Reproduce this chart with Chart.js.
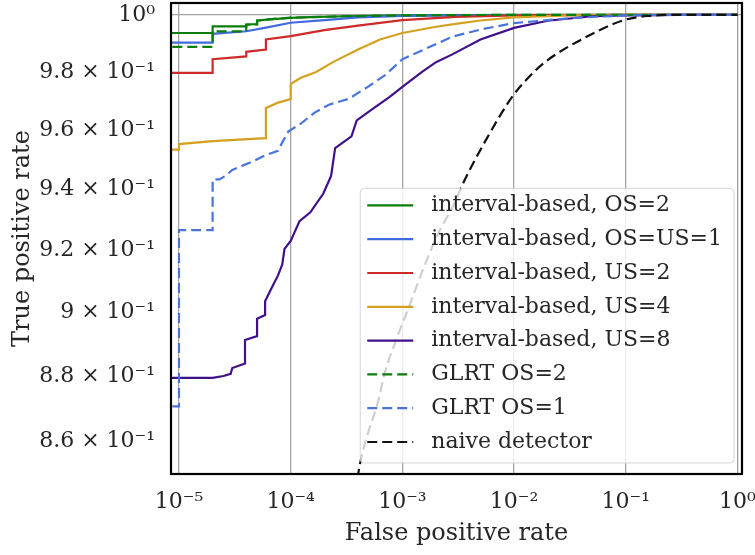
<!DOCTYPE html>
<html>
<head>
<meta charset="utf-8">
<script src="https://cdn.jsdelivr.net/npm/chart.js@4/dist/chart.umd.min.js"></script>
<style>
html,body{margin:0;padding:0;background:#ffffff;}
#wrap{width:755px;height:555px;}
</style>
</head>
<body>
<div id="wrap"><canvas id="c" width="755" height="555"></canvas></div>
<script>
// ---- tick values & labels ----
const xTicks = [1e-5, 1e-4, 1e-3, 1e-2, 1e-1, 1];
const xTickLabels = ['10⁻⁵', '10⁻⁴', '10⁻³', '10⁻²', '10⁻¹', '10⁰'];
const yTicks = [0.86, 0.88, 0.90, 0.92, 0.94, 0.96, 0.98, 1.0];
const yTickLabels = ['8.6 × 10⁻¹', '8.8 × 10⁻¹', '9 × 10⁻¹', '9.2 × 10⁻¹', '9.4 × 10⁻¹', '9.6 × 10⁻¹', '9.8 × 10⁻¹', '10⁰'];

// ---- series labels ----
const seriesLabels = ['interval-based, OS=2', 'interval-based, OS=US=1', 'interval-based, US=2',
  'interval-based, US=4', 'interval-based, US=8', 'GLRT OS=2', 'GLRT OS=1', 'naive detector'];

// ---- series values (false positive rate / true positive rate) ----
const fprIntOS2 = [1e-6, 2e-5, 2e-5, 4e-5, 4e-5, 5e-5, 5e-5, 7e-5, 1e-4, 1.5e-4, 3e-4, 1e-3, 3e-3, 1e-2, 1];
const tprIntOS2 = [0.9936, 0.9936, 0.9959, 0.9959, 0.9966, 0.9967, 0.9980, 0.9985, 0.9989, 0.9992, 0.9995, 0.9998, 0.9999, 1.0, 1.0];

const fprIntOSUS1 = [1e-6, 2e-5, 2e-5, 4e-5, 6e-5, 1e-4, 2e-4, 4e-4, 1e-3, 1e-2, 1];
const tprIntOSUS1 = [0.9902, 0.9902, 0.9933, 0.9942, 0.9955, 0.9972, 0.9981, 0.9991, 0.9996, 0.99995, 1.0];

const fprIntUS2 = [1e-6, 2e-5, 2e-5, 4e-5, 4e-5, 6e-5, 6e-5, 1e-4, 2e-4, 4e-4, 1e-3, 3e-3, 1e-2, 0.1, 1];
const tprIntUS2 = [0.9797, 0.9797, 0.9844, 0.9854, 0.9870, 0.9878, 0.9913, 0.9925, 0.9946, 0.9962, 0.9981, 0.9993, 0.9998, 1.0, 1.0];

const fprIntUS4 = [1e-6, 1e-5, 1e-5, 2e-5, 6e-5, 6e-5, 7.7e-5, 1e-4, 1e-4, 1.22e-4, 1.69e-4, 2.39e-4, 4e-4, 6.3e-4, 1e-3, 2e-3, 3e-3, 5e-3, 1e-2, 3e-2, 0.1, 1];
const tprIntUS4 = [0.9534, 0.9534, 0.9553, 0.9563, 0.9573, 0.9676, 0.9694, 0.9706, 0.9758, 0.9779, 0.9800, 0.9834, 0.9878, 0.9913, 0.9936, 0.9958, 0.9968, 0.9980, 0.9991, 0.9998, 1.0, 1.0];

const fprIntUS8 = [1e-6, 2e-5, 2.5e-5, 2.9e-5, 3e-5, 3.9e-5, 3.9e-5, 5e-5, 5e-5, 5.9e-5, 5.9e-5, 6.8e-5, 7.7e-5, 8.4e-5, 8.8e-5, 1e-4, 1.2e-4, 1.5e-4, 1.96e-4, 2.3e-4, 2.5e-4, 3.5e-4, 3.9e-4, 5.5e-4, 7.7e-4, 1e-3, 1.5e-3, 2e-3, 2.8e-3, 5e-3, 1e-2, 2e-2, 5e-2, 0.1, 0.3, 1];
const tprIntUS8 = [0.8794, 0.8794, 0.8800, 0.8807, 0.8825, 0.8839, 0.8913, 0.8925, 0.8980, 0.8992, 0.9036, 0.9081, 0.9119, 0.9154, 0.9205, 0.9231, 0.9296, 0.9325, 0.9387, 0.9446, 0.9539, 0.9579, 0.9633, 0.9674, 0.9714, 0.9748, 0.9800, 0.9834, 0.9861, 0.9913, 0.9954, 0.9979, 0.9995, 0.9998, 1.0, 1.0];

const fprGlrtOS2 = [1e-6, 2e-5, 2e-5, 4e-5, 4e-5, 5e-5, 5e-5, 7e-5, 1e-4, 3e-4, 1e-3, 3e-3, 1e-2, 1];
const tprGlrtOS2 = [0.9887, 0.9887, 0.9942, 0.9942, 0.9965, 0.9966, 0.9979, 0.9986, 0.9990, 0.9995, 0.9998, 0.9999, 1.0, 1.0];

const fprGlrtOS1 = [1e-6, 1e-5, 1e-5, 2e-5, 2e-5, 2.3e-5, 2.6e-5, 3e-5, 4.5e-5, 6e-5, 7.7e-5, 8.5e-5, 9.5e-5, 1.24e-4, 1.64e-4, 2.2e-4, 3.3e-4, 4.9e-4, 7e-4, 1e-3, 2.8e-3, 5e-3, 1e-2, 3.4e-2, 0.1, 0.3, 1];
const tprGlrtOS1 = [0.8706, 0.8706, 0.9266, 0.9266, 0.9434, 0.9434, 0.9446, 0.9466, 0.9493, 0.9516, 0.9530, 0.9562, 0.9595, 0.9623, 0.9660, 0.9687, 0.9707, 0.9748, 0.9789, 0.9844, 0.9923, 0.9948, 0.9971, 0.9989, 0.9998, 1.0, 1.0];

const fprNaive = [3.765e-4, 4.173e-4, 4.82e-4, 6.05e-4, 6.99e-4, 8.94e-4, 1.17e-3, 1.529e-3, 2.084e-3, 2.958e-3, 3.417e-3, 5.72e-3, 9.78e-3, 1.332e-2, 1.89e-2, 4.14e-2, 9.84e-2, 0.1646, 0.3055, 1];
const tprNaive = [0.8441, 0.8530, 0.8614, 0.8720, 0.8812, 0.8920, 0.9027, 0.9138, 0.9254, 0.9358, 0.9413, 0.9573, 0.9718, 0.9779, 0.9834, 0.9916, 0.99825, 0.99965, 1.0, 1.0];

// ---- build datasets ----
const FONT = "'DejaVu Serif', 'Liberation Serif', serif";
const TEXT = '#262626';
function pts(xs, ys) { return xs.map((x, i) => ({x: x, y: ys[i]})); }
const specs = [
  [fprIntOS2, tprIntOS2, '#0a7d0a', null],
  [fprIntOSUS1, tprIntOSUS1, '#4169e1', null],
  [fprIntUS2, tprIntUS2, '#cf2a2a', null],
  [fprIntUS4, tprIntUS4, '#d4a020', null],
  [fprIntUS8, tprIntUS8, '#40108a', null],
  [fprGlrtOS2, tprGlrtOS2, '#0a7d0a', [10, 5]],
  [fprGlrtOS1, tprGlrtOS1, '#4a74dc', [10, 5]],
  [fprNaive, tprNaive, '#111111', [10, 5]]
];
const datasets = specs.map((s, i) => ({
  label: seriesLabels[i],
  data: pts(s[0], s[1]),
  borderColor: s[2],
  backgroundColor: s[2],
  borderWidth: 2.2,
  borderDash: s[3] || [],
  pointRadius: 0,
  fill: false,
  tension: 0,
  cubicInterpolationMode: i === 7 ? 'monotone' : 'default',
  order: specs.length - i
}));

// ---- plugins ----
const framePlugin = {
  id: 'frame',
  afterDraw(chart) {
    const {ctx, chartArea: a} = chart;
    ctx.save();
    ctx.strokeStyle = '#000';
    ctx.lineWidth = 2.2;
    ctx.strokeRect(a.left, a.top, a.right - a.left, a.bottom - a.top);
    ctx.restore();
  }
};

const legendPlugin = {
  id: 'boxLegend',
  afterDatasetsDraw(chart) {
    const {ctx, chartArea: a} = chart;
    const dsets = chart.data.datasets;
    ctx.save();
    ctx.font = '22px ' + FONT;
    let maxW = 0;
    dsets.forEach(d => { maxW = Math.max(maxW, ctx.measureText(d.label).width); });
    const rowH = 33.8;
    const w = 7 + 46 + 18 + maxW + 12;
    const h = 17 + rowH * (dsets.length - 1) + 21;
    const right = a.right - 8, bottom = a.bottom - 11;
    const left = right - w, top = bottom - h;
    ctx.beginPath();
    ctx.roundRect(left, top, w, h, 4);
    ctx.fillStyle = 'rgba(255,255,255,0.8)';
    ctx.fill();
    ctx.strokeStyle = 'rgba(204,204,204,0.8)';
    ctx.lineWidth = 1;
    ctx.stroke();
    dsets.forEach((d, i) => {
      const y = top + 17 + rowH * i;
      ctx.beginPath();
      ctx.setLineDash(d.borderDash || []);
      ctx.strokeStyle = d.borderColor;
      ctx.lineWidth = d.borderWidth;
      ctx.moveTo(left + 7, y);
      ctx.lineTo(left + 53, y);
      ctx.stroke();
      ctx.setLineDash([]);
      ctx.fillStyle = TEXT;
      ctx.textAlign = 'left';
      ctx.textBaseline = 'middle';
      ctx.fillText(d.label, left + 71, y);
    });
    ctx.restore();
  }
};

// ---- chart ----
new Chart(document.getElementById('c'), {
  type: 'line',
  data: {datasets: datasets},
  plugins: [legendPlugin, framePlugin],
  options: {
    responsive: false,
    animation: false,
    devicePixelRatio: 1,
    layout: {padding: {left: 0, top: 3, right: 13, bottom: 0}},
    plugins: {legend: {display: false}, tooltip: {enabled: false}},
    scales: {
      x: {
        type: 'logarithmic',
        min: 8.48e-6,
        max: 1.098,
        afterBuildTicks: s => { s.ticks = xTicks.map(v => ({value: v})); },
        afterFit: s => { s.height = 81; s.paddingLeft = 0; s.paddingRight = 0; },
        border: {display: false},
        grid: {color: '#a3a3a3', lineWidth: 1.3, drawTicks: false},
        ticks: {
          autoSkip: false, maxRotation: 0, padding: 15, color: TEXT,
          font: {family: FONT, size: 22},
          callback: v => xTickLabels[xTicks.indexOf(v)]
        },
        title: {display: true, text: 'False positive rate', color: TEXT,
          font: {family: FONT, size: 24}, padding: {top: 0, bottom: 7}}
      },
      y: {
        type: 'logarithmic',
        min: 0.85183,
        max: 1.0042,
        afterBuildTicks: s => { s.ticks = yTicks.map(v => ({value: v})); },
        afterFit: s => { s.width = 171; s.paddingTop = 0; s.paddingBottom = 0; },
        border: {display: false},
        grid: {
          color: c => (c.tick && c.tick.value === 1) ? '#a3a3a3' : 'rgba(0,0,0,0)',
          lineWidth: 1.3, drawTicks: false
        },
        ticks: {
          autoSkip: false, padding: 16, color: TEXT,
          font: {family: FONT, size: 22},
          callback: v => yTickLabels[yTicks.indexOf(v)]
        },
        title: {display: true, text: 'True positive rate', color: TEXT,
          font: {family: FONT, size: 24}, padding: {top: 8, bottom: 0}}
      }
    }
  }
});
</script>
</body>
</html>
